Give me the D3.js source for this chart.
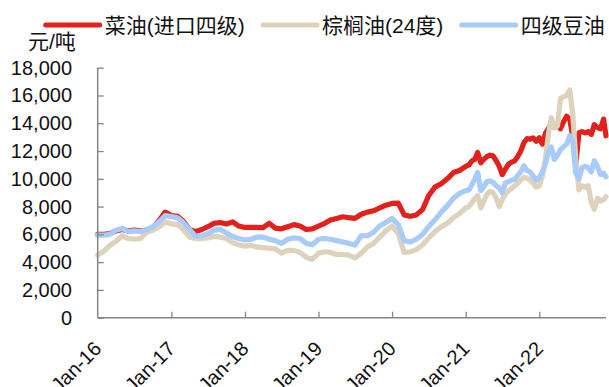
<!DOCTYPE html>
<html>
<head>
<meta charset="utf-8">
<script src="https://cdn.jsdelivr.net/npm/d3@7/dist/d3.min.js"></script>
<style>
  html, body { margin: 0; padding: 0; background: #fff; }
  svg { display: block; font-family: "Liberation Sans", Arial, "Noto Sans CJK SC", sans-serif; }
</style>
</head>
<body>
<svg id="chart" width="609" height="387"></svg>
<script>
// Monthly observations (month index from Jan 2016), semi-monthly from 2021 on
const monthIndex = [
  0,1,2,3,4,5,6,7,8,9,10,11,
  12,13,14,15,16,17,18,19,20,21,22,23,
  24,25,26,27,28,29,30,31,32,33,34,35,
  36,37,38,39,40,41,42,43,44,45,46,47,
  48,49,50,51,52,53,54,55,56,57,58,59,
  60,60.5,61,61.5,62,62.5,63,63.5,64,64.5,65,65.5,
  66,66.5,67,67.5,68,68.5,69,69.5,70,70.5,71,71.5,
  72,72.5,73,73.5,74,74.5,75,75.5,76,76.5,77,77.5,
  78,78.5,79,79.5,80,80.5,81,81.5,82,82.5,82.9
];

// 菜油(进口四级), 元/吨
const rapeseedOil = [
  6000,6000,6050,6250,6350,6250,6300,6250,6300,6500,7000,7600,
  7350,7300,6950,6350,6200,6350,6550,6800,6850,6750,6900,6600,
  6500,6500,6500,6480,6800,6450,6400,6550,6700,6600,6350,6400,
  6600,6800,7030,7150,7270,7200,7150,7450,7600,7700,7900,8100,
  8230,8250,7400,7300,7400,7800,8800,9400,9650,10000,10450,10600,
  10900,11000,11300,11400,11900,11150,11400,11600,11700,11650,11300,10900,
  10300,10700,11050,11200,11300,11600,12000,12600,12900,12850,12950,12700,
  12950,12500,13300,13600,14000,13700,13900,13600,14100,14500,14300,13000,
  11000,13300,13400,13300,13400,13200,13900,13700,13600,14300,13100
];

// 棕榈油(24度), 元/吨
const palmOil = [
  4500,4800,5200,5500,5900,5700,5650,5700,6150,6300,6550,6900,
  6750,6700,6350,5800,5700,5700,5750,5850,5800,5700,5400,5250,
  5150,5200,5100,5050,5000,4950,4650,4850,4850,4700,4350,4200,
  4650,4750,4700,4550,4550,4500,4300,4650,5100,5350,5800,6250,
  6600,6050,4700,4750,4900,5250,5750,6200,6550,6800,7200,7500,
  7900,8000,8300,8600,8800,7900,8400,8900,9100,9000,8600,8000,
  8500,8900,9150,9300,9500,9700,9900,10100,10050,9900,9700,9400,
  9500,10200,11500,13200,14400,13700,13800,15800,15900,16000,16400,14600,
  11500,9200,9500,9400,9500,8300,7800,8600,8400,8500,8700
];

// 四级豆油, 元/吨
const soybeanOil = [
  5950,5950,6000,6300,6430,6200,6250,6200,6350,6550,6900,7350,
  7280,7200,6850,6350,5850,5900,6050,6300,6350,6100,5850,5700,
  5600,5650,5800,5800,5650,5550,5350,5650,5750,5700,5350,5250,
  5650,5700,5650,5550,5450,5350,5230,5900,5900,6150,6600,6850,
  7150,6700,5550,5450,5650,6000,6550,7050,7600,8050,8600,8950,
  9150,9200,9600,10000,10450,9150,9450,9800,9850,9750,9500,9350,
  9000,9700,9800,9900,9950,10250,10500,10950,10600,10500,10200,9900,
  10100,10500,11100,11900,12300,11400,11700,12100,12300,12500,13100,12700,
  10400,10000,10800,10900,10800,10500,11300,10900,10300,10400,10150
];

const seriesNames = ["菜油(进口四级)", "棕榈油(24度)", "四级豆油"];
const seriesColors = ["#e3211c", "#ddd3bd", "#a7cbfa"];
const yTicks = [0, 2000, 4000, 6000, 8000, 10000, 12000, 14000, 16000, 18000];
const xTickYears = [2016, 2017, 2018, 2019, 2020, 2021, 2022];
const unitLabel = "元/吨";

// month index -> calendar date (fractional months land mid-month)
function toDate(m) {
  const whole = Math.floor(m);
  const d = new Date(2016, whole, 1);
  const next = new Date(2016, whole + 1, 1);
  return new Date(d.getTime() + (m - whole) * (next - d));
}
const dates = monthIndex.map(toDate);

const svg = d3.select("#chart");
const plotLeft = 97.7, plotRight = 606, plotTop = 67.7, plotBottom = 317.7;

const x = d3.scaleTime()
  .domain([new Date(2016, 0, 1), new Date(2022, 10, 28)])
  .range([plotLeft, plotRight]);
const y = d3.scaleLinear().domain([0, 18000]).range([plotBottom, plotTop]);

const axisColor = "#868686";

// lines: rapeseed first, palm over it, soybean on top
const line = d3.line()
  .x((d, i) => x(dates[i]))
  .y(d => y(d))
  .curve(d3.curveLinear);

[rapeseedOil, palmOil, soybeanOil].forEach((vals, k) => {
  svg.append("path")
    .datum(vals)
    .attr("d", line)
    .attr("fill", "none")
    .attr("stroke", seriesColors[k])
    .attr("stroke-width", 5.2)
    .attr("stroke-linejoin", "round")
    .attr("stroke-linecap", "round");
});

// y axis
const yAxis = d3.axisRight(y)
  .tickValues(yTicks)
  .tickSize(6)
  .tickFormat("");
const gy = svg.append("g").attr("transform", `translate(${plotLeft},0)`).call(yAxis);
gy.select(".domain").remove();
gy.selectAll(".tick line").attr("stroke", axisColor).attr("stroke-width", 1.3);
svg.append("line")
  .attr("x1", plotLeft).attr("x2", plotLeft).attr("y1", plotTop).attr("y2", plotBottom)
  .attr("stroke", axisColor).attr("stroke-width", 1.5);

svg.append("g").selectAll("text")
  .data(yTicks)
  .join("text")
  .attr("x", 72)
  .attr("y", d => y(d))
  .attr("dy", "0.35em")
  .attr("text-anchor", "end")
  .attr("font-size", 20)
  .attr("fill", "#111")
  .text(d => d3.format(",")(d));

// x axis
const xTickDates = xTickYears.map(yr => new Date(yr, 0, 1));
const xAxis = d3.axisTop(x)
  .tickValues(xTickDates.slice(1))
  .tickSize(6)
  .tickFormat("");
const gx = svg.append("g").attr("transform", `translate(0,${plotBottom})`).call(xAxis);
gx.select(".domain").remove();
gx.selectAll(".tick line").attr("stroke", axisColor).attr("stroke-width", 1.3);
svg.append("line")
  .attr("x1", plotLeft).attr("x2", plotRight).attr("y1", plotBottom).attr("y2", plotBottom)
  .attr("stroke", axisColor).attr("stroke-width", 1.5);

const fmtTick = d3.timeFormat("%b-%y");
svg.append("g").selectAll("text")
  .data(xTickDates)
  .join("text")
  .attr("text-anchor", "end")
  .attr("font-size", 20)
  .attr("fill", "#111")
  .attr("transform", d => `translate(${x(d) + 5},${350}) rotate(-45)`)
  .text(d => fmtTick(d));

// legend
const legendX = [45.7, 263, 461.7];
seriesNames.forEach((name, k) => {
  svg.append("line")
    .attr("x1", legendX[k]).attr("x2", legendX[k] + 54)
    .attr("y1", 25).attr("y2", 25)
    .attr("stroke", seriesColors[k])
    .attr("stroke-width", 5)
    .attr("stroke-linecap", "round");
  svg.append("text")
    .attr("x", legendX[k] + 59)
    .attr("y", 25)
    .attr("dy", "0.36em")
    .attr("font-size", 21)
    .attr("fill", "#111")
    .text(name);
});

svg.append("text")
  .attr("x", 28).attr("y", 41)
  .attr("dy", "0.36em")
  .attr("font-size", 21)
  .attr("fill", "#111")
  .text(unitLabel);
</script>
</body>
</html>
